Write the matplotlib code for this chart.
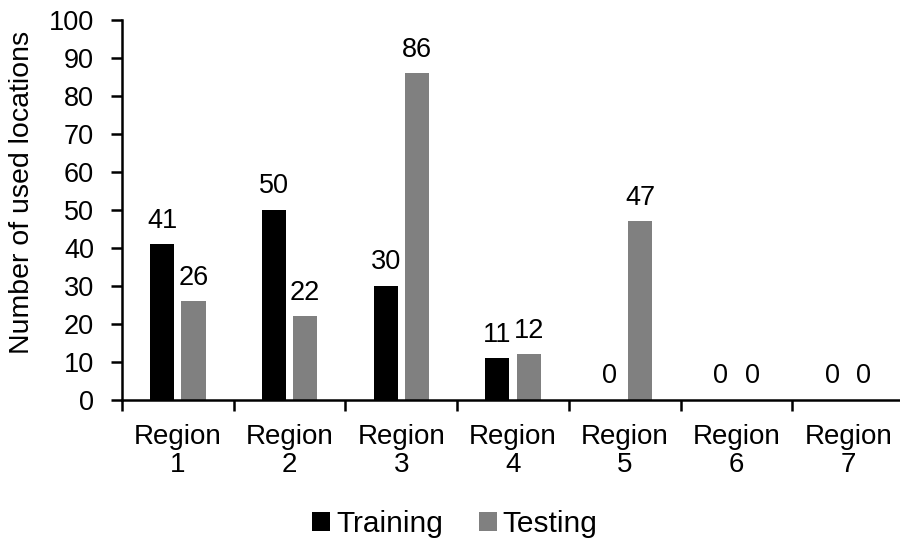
import matplotlib
matplotlib.use("Agg")
import matplotlib.pyplot as plt
import numpy as np

plt.rcParams['font.family'] = ['Liberation Sans', 'DejaVu Sans']

categories = ["Region\n1", "Region\n2", "Region\n3", "Region\n4", "Region\n5", "Region\n6", "Region\n7"]
training = [41, 50, 30, 11, 0, 0, 0]
testing = [26, 22, 86, 12, 47, 0, 0]
yticks = [0, 10, 20, 30, 40, 50, 60, 70, 80, 90, 100]

fig = plt.figure(figsize=(9, 5.5), dpi=100)
ax = fig.add_axes([122/900, 150/550, 782/900, 380/550])

x = np.arange(len(categories))
w = 0.215
off = 0.14
b1 = ax.bar(x - off, training, w, color='#000000', label='Training')
b2 = ax.bar(x + off, testing, w, color='#808080', label='Testing')

for bars, vals in ((b1, training), (b2, testing)):
    for r, v in zip(bars, vals):
        ax.annotate(f"{v}", (r.get_x() + r.get_width() / 2, v),
                    xytext=(0, 12), textcoords='offset points',
                    ha='center', va='baseline', fontsize=19.5)

ax.set_xlim(-0.5, len(categories) - 0.5)
ax.set_ylim(0, 100)
ax.set_yticks(yticks)
ax.set_yticklabels([str(t) for t in yticks], fontsize=19.5)
ax.tick_params(axis='y', direction='out', length=8, width=1.8, pad=12)

ax.set_xticks(x)
ax.set_xticklabels(categories, fontsize=20, linespacing=1.12)
ax.tick_params(axis='x', which='major', length=0, pad=17)
ax.set_xticks(np.arange(len(categories) + 1) - 0.5, minor=True)
ax.tick_params(axis='x', which='minor', direction='out', length=8, width=1.8)

for s in ('top', 'right'):
    ax.spines[s].set_visible(False)
for s in ('left', 'bottom'):
    ax.spines[s].set_linewidth(1.8)

fig.text(22/900, 1 - 192/550, "Number of used locations", rotation=90,
         ha='center', va='center', fontsize=20.5)

fig.legend(handles=[b1, b2], labels=['Training', 'Testing'], loc='center',
           bbox_to_anchor=(455/900, 1 - 524/550), ncol=2, frameon=False,
           fontsize=21.5, handlelength=0.6, handleheight=0.6, handletextpad=0.2,
           columnspacing=1.2)

fig.savefig("out.png", dpi=100)
